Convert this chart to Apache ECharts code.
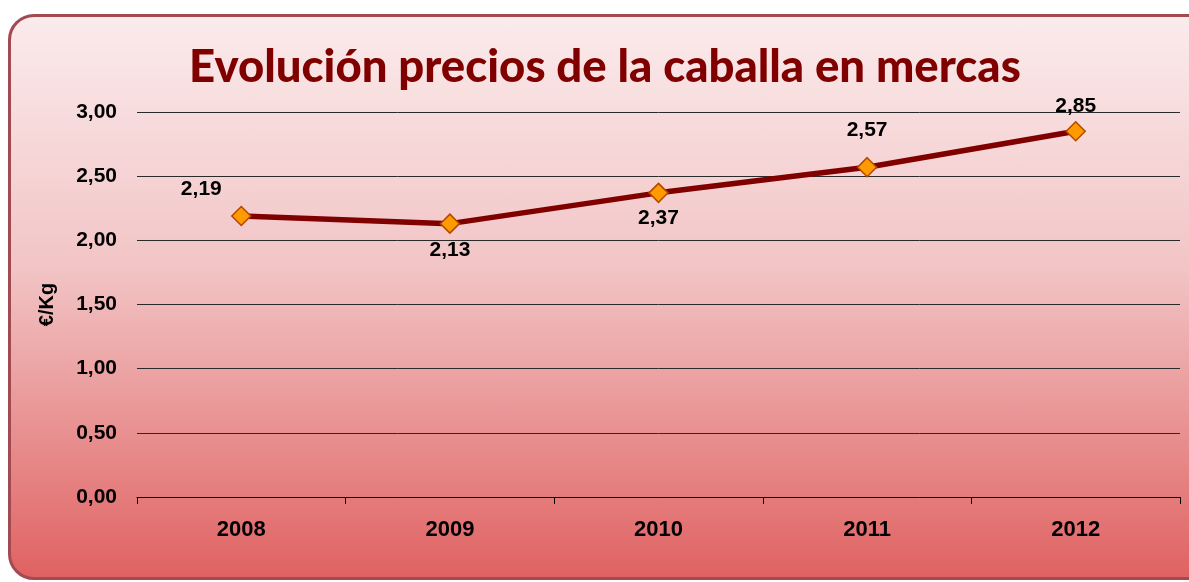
<!DOCTYPE html>
<html>
<head>
<meta charset="utf-8">
<script src="https://cdn.jsdelivr.net/npm/echarts@6/dist/echarts.min.js"></script>
<style>
  html, body { margin: 0; padding: 0; background: #ffffff; }
  #bg {
    position: absolute; left: 8px; top: 14px; width: 1205px; height: 560px;
    border: 3px solid #a24a52; border-radius: 26px;
    background: linear-gradient(#fbebec 0%, #f2c4c5 45%, #e06262 100%);
  }
  #chart { position: absolute; left: 0; top: 0; width: 1189px; height: 582px; }
</style>
</head>
<body>
<div id="bg"></div>
<div id="chart"></div>
<script>
const years = ["2008", "2009", "2010", "2011", "2012"];
const prices = [2.19, 2.13, 2.37, 2.57, 2.85];
const yTicks = [0, 0.5, 1, 1.5, 2, 2.5, 3];

// where each value label sits relative to its marker
const labelOffsets = [[-40, -27], [0, 27], [0, 25], [0, -37], [0, -25]];

const fmt = (v) => v.toFixed(2).replace(".", ",");

const chart = echarts.init(document.getElementById("chart"));
chart.setOption({
  backgroundColor: "transparent",
  animation: false,
  title: {
    text: "Evolución precios de la caballa en mercas",
    left: 184,
    top: 39,
    textStyle: { fontFamily: "Lato", fontWeight: 900, fontSize: 45.5, color: "#800000" }
  },
  grid: { left: 137, right: 9, top: 112, bottom: 85 },
  xAxis: {
    type: "category",
    data: years,
    boundaryGap: true,
    axisLine: { lineStyle: { color: "#000", width: 1 } },
    axisTick: { show: true, length: 7, lineStyle: { color: "#000" } },
    axisLabel: { margin: 22, color: "#000", fontFamily: "Liberation Sans", fontWeight: "bold", fontSize: 22 }
  },
  yAxis: {
    type: "value",
    min: yTicks[0],
    max: yTicks[yTicks.length - 1],
    interval: 0.5,
    name: "€/Kg",
    nameLocation: "middle",
    nameGap: 80,
    nameRotate: 90,
    nameTextStyle: { color: "#000", fontFamily: "Liberation Sans", fontWeight: "bold", fontSize: 20 },
    axisLine: { show: false },
    axisTick: { show: false },
    axisLabel: { margin: 20, color: "#000", fontFamily: "Liberation Sans", fontWeight: "bold", fontSize: 21, formatter: fmt },
    splitLine: { lineStyle: { color: "#2a2a2a", width: 1 } }
  },
  series: [
    {
      type: "line",
      data: prices.map((v, i) => ({
        value: v,
        label: { offset: labelOffsets[i] }
      })),
      symbol: "diamond",
      symbolSize: 19,
      lineStyle: { color: "#800000", width: 5.5 },
      itemStyle: { color: "#ff9a00", borderColor: "#b34700", borderWidth: 1.5 },
      label: {
        show: true,
        position: "inside",
        formatter: (p) => fmt(p.value),
        color: "#000",
        fontFamily: "Liberation Sans",
        fontWeight: "bold",
        fontSize: 21
      },
      z: 3
    }
  ]
});
</script>
</body>
</html>
